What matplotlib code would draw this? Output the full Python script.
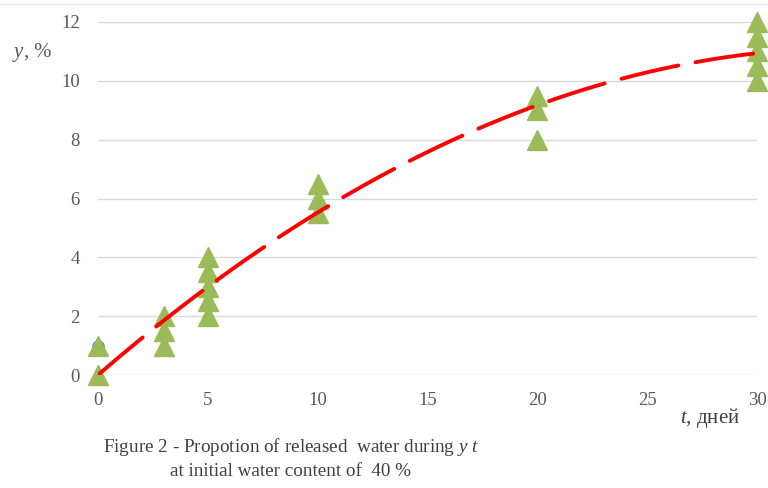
import matplotlib.pyplot as plt
import numpy as np
from matplotlib.lines import Line2D

# ── data ─────────────────────────────────────────────────────────────────────
t_days = [0, 0, 3, 3, 3, 5, 5, 5, 5, 5, 10, 10, 10, 20, 20, 20, 30, 30, 30, 30, 30]
y_pct = [0, 1, 1, 1.5, 2, 2, 2.5, 3, 3.5, 4, 5.5, 6, 6.5, 8, 9, 9.5, 10, 10.5, 11, 11.5, 12]
hidden_t = [0]
hidden_y = [1]
x_ticks = [0, 5, 10, 15, 20, 25, 30]
y_ticks = [0, 2, 4, 6, 8, 10, 12]

plt.rcParams["mathtext.fontset"] = "custom"
plt.rcParams["mathtext.rm"] = "Liberation Serif"
plt.rcParams["mathtext.it"] = "Liberation Serif:italic"

fig = plt.figure(figsize=(7.68, 4.88), dpi=100)
ax = fig.add_axes([98 / 768, 1 - 375 / 488, (757 - 98) / 768, (375 - 22) / 488])

# polynomial trend (2nd order, through origin), fitted to the points
t = np.asarray(t_days, dtype=float)
y = np.asarray(y_pct, dtype=float)
coef, *_ = np.linalg.lstsq(np.column_stack([t, t ** 2]), y, rcond=None)
tt = np.linspace(0, 30, 200)
ax.plot(tt, coef[0] * tt + coef[1] * tt ** 2, color="#FF0000", lw=2.8,
        dashes=(15, 4.5), solid_capstyle="round", dash_capstyle="round", zorder=4)

ax.plot(hidden_t, hidden_y, "o", color="#4F81BD", ms=8, clip_on=False, zorder=2)
ax.plot(t_days, y_pct, "^", color="#9BBB59", ms=14, mec="#9BBB59", clip_on=False, zorder=3)

ax.set_xlim(0, 30)
ax.set_ylim(0, 12)
ax.set_xticks(x_ticks)
ax.set_yticks(y_ticks)
ax.grid(axis="y", color="#D9D9D9", lw=1)
ax.set_axisbelow(True)
for s in ax.spines.values():
    s.set_visible(False)
ax.tick_params(length=0, labelsize=13.5, labelcolor="#595959")
ax.tick_params(axis="x", pad=12)
ax.tick_params(axis="y", pad=13)
for lab in ax.get_yticklabels() + ax.get_xticklabels():
    lab.set_family("Liberation Serif")

fig.text(12 / 768, 1 - 52 / 488, r"$\mathit{y}$, %", fontsize=15, color="#595959",
         family="Liberation Serif", va="center", ha="left")
fig.text(740 / 768, 1 - 418 / 488, r"$\mathit{t}$, дней", fontsize=15, color="#404040",
         family="Liberation Serif", va="center", ha="right")
fig.text(291 / 768, 1 - 447 / 488, r"Figure 2 - Propotion of released  water during $\mathit{y}$ $\mathit{t}$",
         fontsize=13.8, color="#404040", family="Liberation Serif", va="center", ha="center")
fig.text(290 / 768, 1 - 472 / 488, "at initial water content of  40 %",
         fontsize=13.8, color="#404040", family="Liberation Serif", va="center", ha="center")
fig.add_artist(Line2D([0, 1], [1 - 4 / 488] * 2, color="#E8E8E8", lw=1, transform=fig.transFigure))

fig.savefig("out.png", dpi=100)
